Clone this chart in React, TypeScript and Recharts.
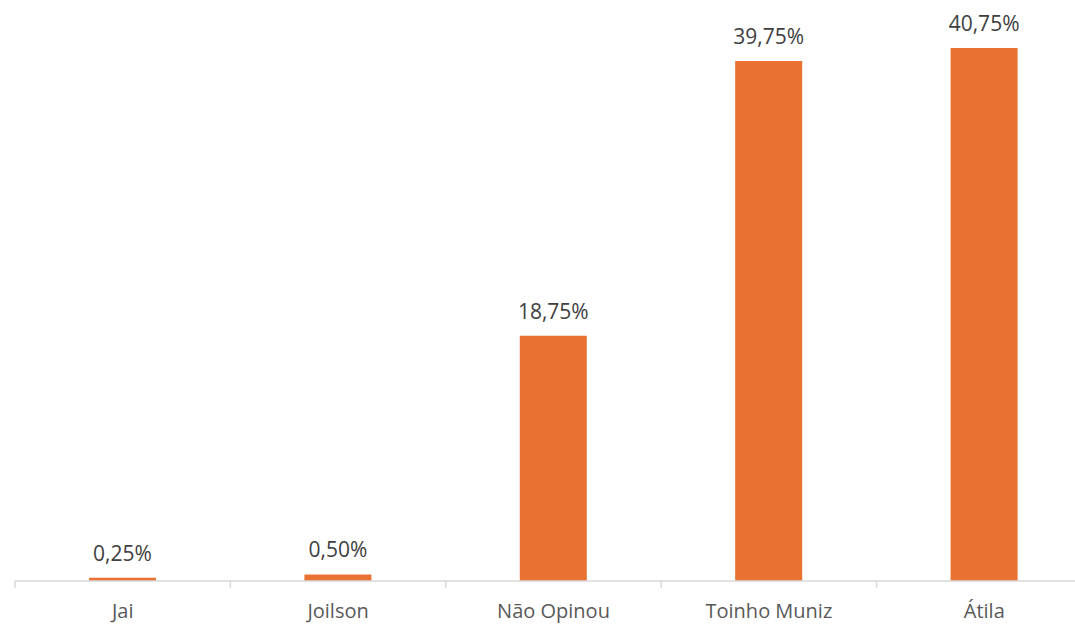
import React from 'react';
import { BarChart, Bar, XAxis, YAxis, LabelList } from 'recharts';

const categories = ['Jai', 'Joilson', 'Não Opinou', 'Toinho Muniz', 'Átila'];
const shares = [0.25, 0.5, 18.75, 39.75, 40.75];

const data = categories.map((name, i) => ({ name, value: shares[i] }));

const CHART_W = 1092;
const LEFT = 15;
const BAND = (CHART_W - LEFT) / categories.length;

const fmt = (v: any) => `${Number(v).toFixed(2).replace('.', ',')}%`;

const BoundaryTick = ({ x, y, payload }: any) => {
  const left = x - BAND / 2;
  return (
    <g>
      <line x1={left} x2={left} y1={y - 8} y2={y - 1} stroke="#d9d9d9" strokeWidth={1.5} />
      <text x={x} y={y + 29} textAnchor="middle" fill="#595959" fontSize={20}>
        {payload.value}
      </text>
    </g>
  );
};

export default function App() {
  return (
    <div style={{ width: 1075, height: 624, overflow: 'hidden', background: '#fff', fontFamily: '"Open Sans", sans-serif' }}>
      <style>{`body{margin:0}`}</style>
      <BarChart
        width={CHART_W}
        height={624}
        data={data}
        margin={{ top: 5.5, right: 0, left: LEFT, bottom: 0 }}
      >
        <YAxis hide domain={[0, 44]} />
        <XAxis
          dataKey="name"
          height={43}
          axisLine={{ stroke: '#d9d9d9', strokeWidth: 1.5 }}
          tickLine={false}
          tick={<BoundaryTick />}
          interval={0}
        />
        <Bar dataKey="value" fill="#e97132" barSize={67} isAnimationActive={false}>
          <LabelList dataKey="value" position="top" offset={17} formatter={fmt} fill="#404040" fontSize={21} />
        </Bar>
      </BarChart>
    </div>
  );
}
